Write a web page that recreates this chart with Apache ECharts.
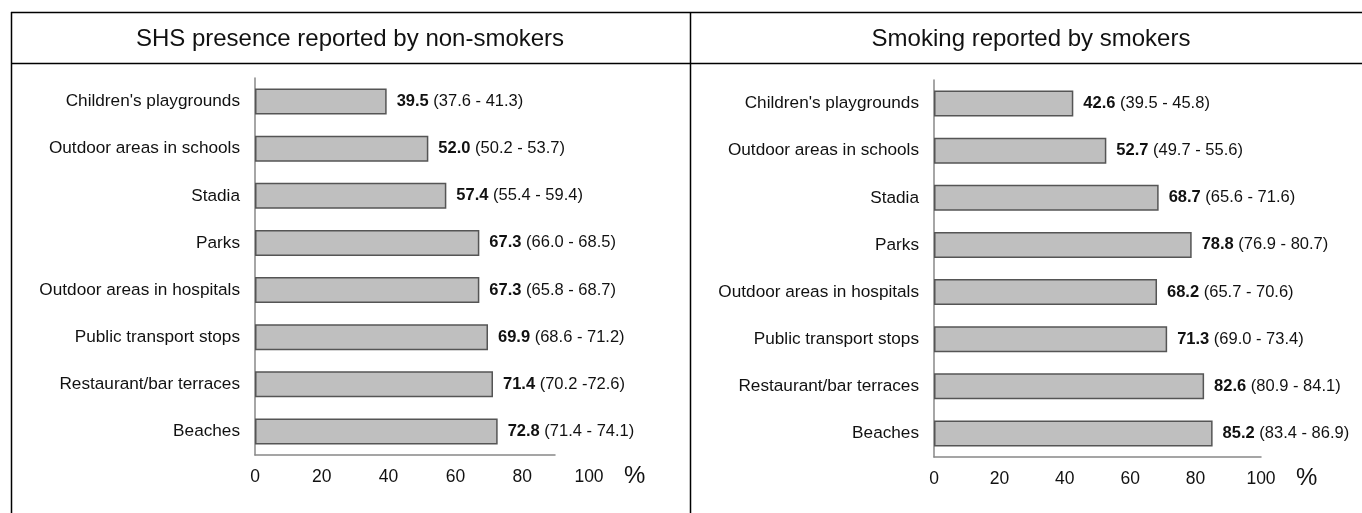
<!DOCTYPE html>
<html>
<head>
<meta charset="utf-8">
<script src="https://cdn.jsdelivr.net/npm/echarts@6/dist/echarts.min.js"></script>
<style>
  html, body { margin: 0; padding: 0; background: #fff; }
  #chart { width: 1362px; height: 513px; }
</style>
</head>
<body>
<div id="chart"></div>
<script>
// categories, top to bottom
var places = ["Children's playgrounds", "Outdoor areas in schools", "Stadia", "Parks",
    "Outdoor areas in hospitals", "Public transport stops", "Restaurant/bar terraces", "Beaches"];

// SHS presence reported by non-smokers
var nonSmokers = [39.5, 52.0, 57.4, 67.3, 67.3, 69.9, 71.4, 72.8];
var nonSmokersCI = ["37.6 - 41.3", "50.2 - 53.7", "55.4 - 59.4", "66.0 - 68.5",
    "65.8 - 68.7", "68.6 - 71.2", "70.2 -72.6", "71.4 - 74.1"];

// Smoking reported by smokers
var smokers = [42.6, 52.7, 68.7, 78.8, 68.2, 71.3, 82.6, 85.2];
var smokersCI = ["39.5 - 45.8", "49.7 - 55.6", "65.6 - 71.6", "76.9 - 80.7",
    "65.7 - 70.6", "69.0 - 73.4", "80.9 - 84.1", "83.4 - 86.9"];

var xTicks = [0, 20, 40, 60, 80, 100];

var FONT = "Liberation Sans, Arial, sans-serif";

var chart = echarts.init(document.getElementById("chart"));

function barLabel(ci) {
    return {
        show: true,
        position: "right",
        distance: 10,
        fontFamily: FONT,
        fontSize: 16.5,
        color: "#111",
        formatter: function (p) {
            return "{b|" + p.value.toFixed(1) + "} " + "(" + ci[p.dataIndex] + ")";
        },
        rich: {
            b: { fontWeight: "bold", fontFamily: FONT, fontSize: 16.5, color: "#111" }
        }
    };
}

function catAxis(gridIndex, show) {
    return {
        type: "category",
        gridIndex: gridIndex,
        data: places,
        inverse: true,
        show: show,
        axisLine: { show: true, lineStyle: { color: "#888", width: 1.5 } },
        axisTick: { show: false },
        axisLabel: { margin: 15, fontFamily: FONT, fontSize: 17.2, color: "#111" }
    };
}

function valAxis(gridIndex, max, showLine, showLabel) {
    return {
        type: "value",
        gridIndex: gridIndex,
        min: 0,
        max: max,
        interval: 20,
        splitLine: { show: false },
        axisTick: { show: false },
        axisLine: { show: showLine, lineStyle: { color: "#888", width: 1.5 } },
        axisLabel: {
            show: showLabel, margin: 13, fontFamily: FONT, fontSize: 17.5, color: "#111",
            customValues: xTicks
        },
        name: showLabel ? "%" : "",
        nameLocation: "end",
        nameGap: 35,
        nameTextStyle: {
            fontFamily: FONT, fontSize: 24, color: "#111",
            verticalAlign: "top", padding: [9, 0, 0, 0]
        }
    };
}

var option = {
    backgroundColor: "#fff",
    animation: false,
    grid: [
        { left: 255, top: 78, width: 300, height: 377 },   // left bars (axis 0-90)
        { left: 255, top: 78, width: 334, height: 377 },   // left tick labels 0-100
        { left: 934, top: 80, width: 327, height: 377 }    // right bars
    ],
    xAxis: [
        valAxis(0, 90, true, false),
        valAxis(1, 100, false, true),
        valAxis(2, 100, true, true)
    ],
    yAxis: [
        catAxis(0, true),
        catAxis(1, false),
        catAxis(2, true)
    ],
    series: [
        {
            type: "bar", xAxisIndex: 0, yAxisIndex: 0,
            data: nonSmokers, barWidth: 26,
            itemStyle: { color: "#bfbfbf", borderColor: "#555", borderWidth: 1.5 },
            label: barLabel(nonSmokersCI)
        },
        {
            type: "bar", xAxisIndex: 2, yAxisIndex: 2,
            data: smokers, barWidth: 26,
            itemStyle: { color: "#bfbfbf", borderColor: "#555", borderWidth: 1.5 },
            label: barLabel(smokersCI)
        }
    ],
    graphic: [
        // table frame
        { type: "line", shape: { x1: 11, y1: 12.5, x2: 1362, y2: 12.5 }, style: { stroke: "#000", lineWidth: 1.5 } },
        { type: "line", shape: { x1: 11, y1: 63.5, x2: 1362, y2: 63.5 }, style: { stroke: "#000", lineWidth: 1.5 } },
        { type: "line", shape: { x1: 11.5, y1: 12, x2: 11.5, y2: 513 }, style: { stroke: "#000", lineWidth: 1.5 } },
        { type: "line", shape: { x1: 690.5, y1: 12, x2: 690.5, y2: 513 }, style: { stroke: "#000", lineWidth: 1.5 } },
        // panel headers
        {
            type: "text", x: 350, y: 39,
            style: { text: "SHS presence reported by non-smokers", fontFamily: FONT, fontSize: 24,
                fill: "#111", textAlign: "center", textVerticalAlign: "middle" }
        },
        {
            type: "text", x: 1031, y: 39,
            style: { text: "Smoking reported by smokers", fontFamily: FONT, fontSize: 24,
                fill: "#111", textAlign: "center", textVerticalAlign: "middle" }
        }
    ]
};

chart.setOption(option);
</script>
</body>
</html>
